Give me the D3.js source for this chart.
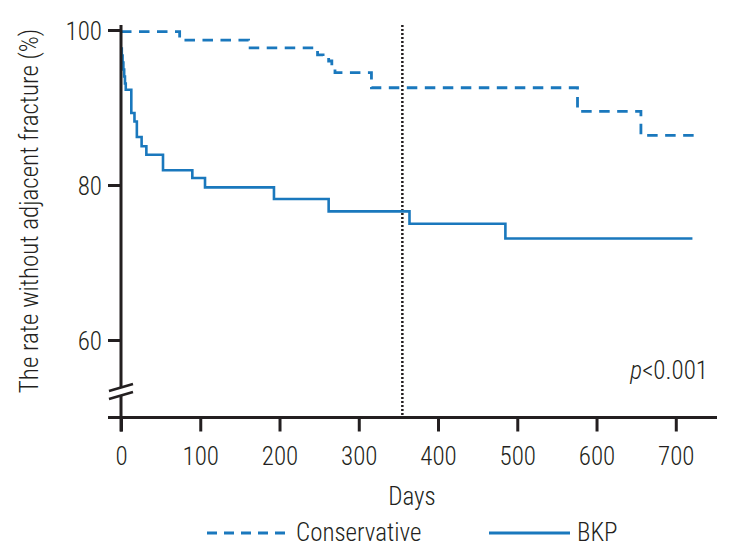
<!DOCTYPE html>
<html>
<head>
<meta charset="utf-8">
<script src="https://cdn.jsdelivr.net/npm/d3@7/dist/d3.min.js"></script>
<style>
  html, body { margin: 0; padding: 0; background: #fff; }
  svg text { font-family: "Roboto Condensed", "Liberation Sans Narrow", "Arial Narrow", "Liberation Sans", sans-serif; font-weight: 300; fill: #231f20; }
</style>
</head>
<body>
<svg id="chart" width="741" height="558"></svg>
<script>
// ---- data ----
const bkpDays  = [0, 1, 2, 3, 4, 5, 6, 13, 17, 20, 26, 32, 53, 90, 106, 193, 262, 364, 485, 721];
const bkpRate  = [97.6, 96.7, 95.8, 94.9, 94.0, 93.1, 92.3, 89.3, 88.2, 86.2, 85.0, 83.9, 81.9, 80.9, 79.7, 78.2, 76.6, 75.0, 73.1, 73.1];
const consDays = [0, 74, 161, 243, 248, 255, 262, 266, 270, 316, 576, 656, 724];
const consRate = [99.8, 98.7, 97.7, 97.3, 96.8, 96.4, 96.0, 95.3, 94.5, 92.55, 89.5, 86.4, 86.4];
const xTicks = [0, 100, 200, 300, 400, 500, 600, 700];
const yTicks = [60, 80, 100];
const markerDay = 355;
const seriesNames = ["Conservative", "BKP"];
const pText = "p<0.001";

const color = "#1a78bd";
const ink = "#231f20";
const svg = d3.select("#chart");

const x = d3.scaleLinear().domain([0, 752]).range([121, 717]);
const y = d3.scaleLinear().domain([50, 100]).range([417.5, 30]);

const line = d3.line().x(d => x(d[0])).y(d => y(d[1])).curve(d3.curveStepAfter);
const cons = consDays.map((d, i) => [d, consRate[i]]);
const bkp = bkpDays.map((d, i) => [d, bkpRate[i]]);

// marker vertical dotted line
svg.append("line")
  .attr("x1", x(markerDay)).attr("x2", x(markerDay))
  .attr("y1", 25).attr("y2", y(50))
  .attr("stroke", ink).attr("stroke-width", 2.5)
  .attr("stroke-dasharray", "2,2");

svg.append("path").datum(cons).attr("d", line)
  .attr("fill", "none").attr("stroke", color).attr("stroke-width", 2.8)
  .attr("stroke-dasharray", "10.5,7.5");
svg.append("path").datum(bkp).attr("d", line)
  .attr("fill", "none").attr("stroke", color).attr("stroke-width", 2.6);

// axes
const xAxis = d3.axisBottom(x).tickValues(xTicks).tickSize(14).tickPadding(10).tickFormat(d3.format("d"));
const gx = svg.append("g").attr("transform", `translate(0,${y(50)})`).call(xAxis);
gx.select(".domain").remove();
gx.selectAll(".tick line").attr("stroke", ink).attr("stroke-width", 3);
gx.selectAll(".tick text").attr("font-size", 25).attr("fill", ink).attr("dy", "0.95em");
svg.append("line").attr("x1", 108).attr("x2", 717).attr("y1", y(50)).attr("y2", y(50))
  .attr("stroke", ink).attr("stroke-width", 3);

const yAxis = d3.axisLeft(y).tickValues(yTicks).tickSize(13).tickPadding(6).tickFormat(d3.format("d"));
const gy = svg.append("g").attr("transform", `translate(${x(0)},0)`).call(yAxis);
gy.select(".domain").remove();
gy.selectAll(".tick line").attr("stroke", ink).attr("stroke-width", 3);
gy.selectAll(".tick text").attr("font-size", 25).attr("fill", ink).attr("dy", "0.36em");
svg.append("line").attr("x1", x(0)).attr("x2", x(0)).attr("y1", 25).attr("y2", y(50) + 14)
  .attr("stroke", ink).attr("stroke-width", 3);

// axis break
const bx = x(0), by = 392;
svg.append("polygon")
  .attr("points", `${bx-13},${by+3} ${bx+13},${by-4} ${bx+13},${by+4} ${bx-13},${by+11}`)
  .attr("fill", "#fff").attr("transform", "translate(0,-4)");
[0, 8].forEach(off => {
  svg.append("line")
    .attr("x1", bx - 12).attr("y1", by - 1 + off)
    .attr("x2", bx + 12).attr("y2", by - 8 + off)
    .attr("stroke", ink).attr("stroke-width", 2.5);
});

// axis titles
svg.append("text").attr("x", 412).attr("y", 505).attr("text-anchor", "middle")
  .attr("font-size", 25).text("Days");
svg.append("text").attr("transform", "translate(38,211) rotate(-90)")
  .attr("text-anchor", "middle").attr("font-size", 25)
  .text("The rate without adjacent fracture (%)");

// p value
const pt = svg.append("text").attr("x", 708).attr("y", 379).attr("text-anchor", "end").attr("font-size", 25);
pt.append("tspan").attr("font-style", "italic").text(pText.slice(0, 1));
pt.append("tspan").text(pText.slice(1));

// legend
const legend = [
  {name: seriesNames[0], x1: 207, x2: 287, tx: 296, dash: "10,7"},
  {name: seriesNames[1], x1: 489, x2: 570, tx: 577, dash: null}
];
legend.forEach(l => {
  svg.append("line").attr("x1", l.x1).attr("x2", l.x2).attr("y1", 533).attr("y2", 533)
    .attr("stroke", color).attr("stroke-width", 3)
    .attr("stroke-dasharray", l.dash);
  svg.append("text").attr("x", l.tx).attr("y", 541).attr("font-size", 25).text(l.name);
});
</script>
</body>
</html>
